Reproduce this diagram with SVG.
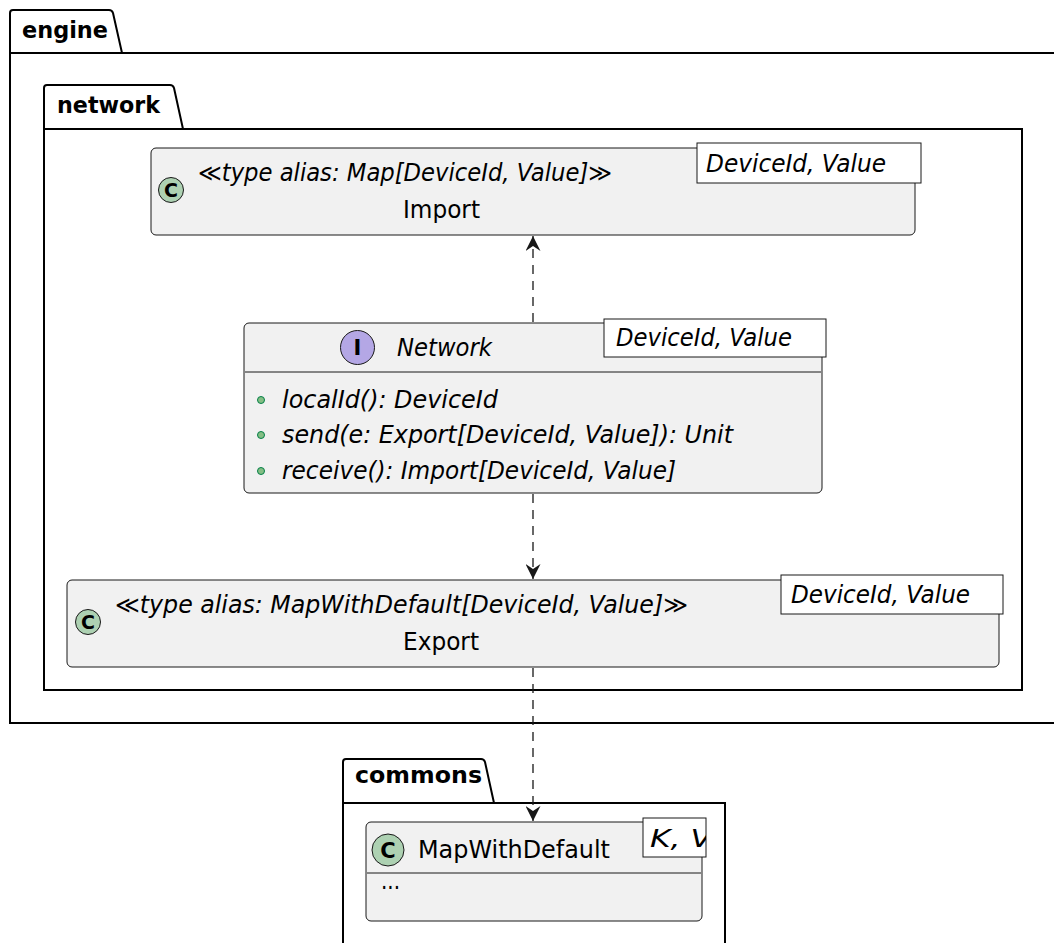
<svg xmlns="http://www.w3.org/2000/svg" width="1054" height="943" viewBox="0 0 1054 943">
  <defs>
    <style>
      .pkg { fill: none; stroke: #000; stroke-width: 2; }
      .pkgtab { fill: #fff; stroke: #000; stroke-width: 2; stroke-linejoin: round; }
      .pkgname { font-family: "DejaVu Sans", sans-serif; font-weight: bold; font-size: 23px; fill: #000; }
      .cls { fill: #F1F1F1; stroke: #181818; stroke-width: 1; }
      .sep { stroke: #181818; stroke-width: 1; }
      .tpl { fill: #fff; stroke: #181818; stroke-width: 1; }
      .txt { font-family: "DejaVu Sans", sans-serif; font-size: 24px; fill: #000; }
      .it { font-style: italic; }
      .spotC { fill: #ADD1B2; stroke: #181818; stroke-width: 1; }
      .spotI { fill: #B4A7E5; stroke: #181818; stroke-width: 1; }
      .spotL { font-family: "DejaVu Sans", sans-serif; font-weight: bold; fill: #000; }
      .vis { fill: #84BE84; stroke: #038048; stroke-width: 1; }
      .edge { fill: none; stroke: #181818; stroke-width: 1.3; stroke-dasharray: 9 7; }
    </style>
    <marker id="arrow" viewBox="0 0 15 15" refX="15" refY="7.5" markerWidth="15" markerHeight="15" markerUnits="userSpaceOnUse" orient="auto">
      <path d="M0,0 L15,7.5 L0,15 L5,7.5 Z" fill="#181818"/>
    </marker>
    <clipPath id="clip-kv">
      <rect x="643" y="818" width="63" height="39"/>
    </clipPath>
  </defs>
  <rect width="1054" height="943" fill="#fff"/>

  <!-- package engine -->
  <g id="pkg-engine">
    <path class="pkgtab" d="M10,53 L10,13 Q10,10 13,10 L109,10 Q112,10 113,13 L122,53"/>
    <rect class="pkg" x="10" y="53" width="1060" height="670"/>
    <text class="pkgname" x="22" y="38" textLength="86" lengthAdjust="spacingAndGlyphs">engine</text>
  </g>

  <!-- package network -->
  <g id="pkg-network">
    <path class="pkgtab" d="M44,129 L44,88 Q44,85 47,85 L170,85 Q173,85 174,88 L183,129"/>
    <rect class="pkg" x="44" y="129" width="978" height="561"/>
    <text class="pkgname" x="57" y="113" textLength="103" lengthAdjust="spacingAndGlyphs">network</text>
  </g>

  <!-- package commons -->
  <g id="pkg-commons">
    <path class="pkgtab" d="M343,803 L343,762 Q343,759 346,759 L481,759 Q484,759 485,762 L494,803"/>
    <rect class="pkg" x="343" y="803" width="382" height="160"/>
    <text class="pkgname" x="355" y="783" textLength="127" lengthAdjust="spacingAndGlyphs">commons</text>
  </g>

  <!-- connectors -->
  <g id="edges">
    <line class="edge" x1="533" y1="322" x2="533" y2="236" marker-end="url(#arrow)"/>
    <line class="edge" x1="533" y1="494" x2="533" y2="579" marker-end="url(#arrow)"/>
    <line class="edge" x1="533" y1="668" x2="533" y2="821" marker-end="url(#arrow)"/>
  </g>

  <!-- class Import -->
  <g id="cls-import">
    <rect class="cls" x="151" y="148" width="764" height="87" rx="5"/>
    <rect class="tpl" x="697" y="143" width="224" height="40"/>
    <text class="txt it" x="706" y="172" textLength="180" lengthAdjust="spacingAndGlyphs">DeviceId, Value</text>
    <circle class="spotC" cx="171" cy="190" r="12.5"/>
    <text class="spotL" x="171" y="197" font-size="19" text-anchor="middle">C</text>
    <text class="txt it" x="198" y="181" textLength="414" lengthAdjust="spacingAndGlyphs">≪type alias: Map[DeviceId, Value]≫</text>
    <text class="txt" x="403" y="218" textLength="77" lengthAdjust="spacingAndGlyphs">Import</text>
  </g>

  <!-- interface Network -->
  <g id="cls-network">
    <rect class="cls" x="244" y="323" width="578" height="170" rx="5"/>
    <line class="sep" x1="245" y1="372" x2="821" y2="372"/>
    <rect class="tpl" x="604" y="319" width="222" height="38"/>
    <text class="txt it" x="616" y="346" textLength="176" lengthAdjust="spacingAndGlyphs">DeviceId, Value</text>
    <circle class="spotI" cx="357.5" cy="347.5" r="17"/>
    <text class="spotL" x="357.5" y="355" font-size="21" text-anchor="middle">I</text>
    <text class="txt it" x="397" y="356" textLength="95" lengthAdjust="spacingAndGlyphs">Network</text>
    <circle class="vis" cx="261" cy="400" r="3.5"/>
    <text class="txt it" x="282" y="408" textLength="216" lengthAdjust="spacingAndGlyphs">localId(): DeviceId</text>
    <circle class="vis" cx="261" cy="435" r="3.5"/>
    <text class="txt it" x="282" y="443" textLength="451" lengthAdjust="spacingAndGlyphs">send(e: Export[DeviceId, Value]): Unit</text>
    <circle class="vis" cx="261" cy="471" r="3.5"/>
    <text class="txt it" x="282" y="479" textLength="394" lengthAdjust="spacingAndGlyphs">receive(): Import[DeviceId, Value]</text>
  </g>

  <!-- class Export -->
  <g id="cls-export">
    <rect class="cls" x="67" y="580" width="932" height="87" rx="5"/>
    <rect class="tpl" x="781" y="575" width="222" height="39"/>
    <text class="txt it" x="791" y="603" textLength="179" lengthAdjust="spacingAndGlyphs">DeviceId, Value</text>
    <circle class="spotC" cx="88" cy="622" r="12.5"/>
    <text class="spotL" x="88" y="629" font-size="19" text-anchor="middle">C</text>
    <text class="txt it" x="115" y="613" textLength="573" lengthAdjust="spacingAndGlyphs">≪type alias: MapWithDefault[DeviceId, Value]≫</text>
    <text class="txt" x="403" y="650" textLength="76" lengthAdjust="spacingAndGlyphs">Export</text>
  </g>

  <!-- class MapWithDefault -->
  <g id="cls-mapwithdefault">
    <rect class="cls" x="366" y="822" width="336" height="99" rx="5"/>
    <line class="sep" x1="367" y1="873" x2="701" y2="873"/>
    <rect class="tpl" x="643" y="818" width="63" height="39"/>
    <text class="txt it" x="650" y="847" textLength="62" lengthAdjust="spacingAndGlyphs" clip-path="url(#clip-kv)">K, V</text>
    <circle class="spotC" cx="388" cy="850" r="16"/>
    <text class="spotL" x="388" y="857.5" font-size="21" text-anchor="middle">C</text>
    <text class="txt" x="418" y="858" textLength="192" lengthAdjust="spacingAndGlyphs">MapWithDefault</text>
    <text class="txt" x="381" y="889" textLength="19" lengthAdjust="spacingAndGlyphs">...</text>
  </g>
</svg>
